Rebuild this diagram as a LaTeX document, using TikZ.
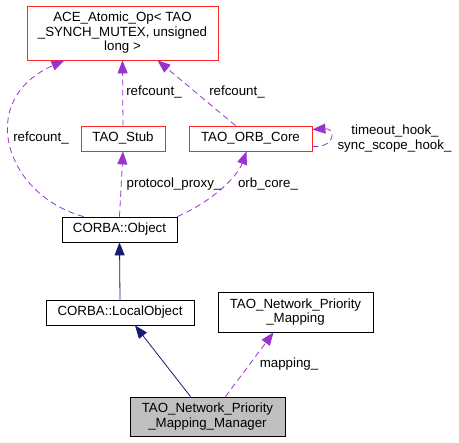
\documentclass[tikz,border=0pt]{standalone}
\usepackage{fontspec}
\setmainfont{Liberation Sans}
\usetikzlibrary{arrows.meta}
\definecolor{usecol}{HTML}{9A32CD}
\definecolor{inhcol}{HTML}{191970}
\definecolor{boxgray}{HTML}{BFBFBF}
\tikzset{
	cls/.style={draw=black,thick,rectangle,inner sep=0pt,align=center,font=\fontsize{13.3}{14.5}\selectfont},
	redcls/.style={cls,draw=red!85!white},
	uses/.style={->,color=usecol,thick,dash pattern=on 6pt off 4pt},
	inherit/.style={->,color=inhcol,thick},
	lbl/.style={font=\fontsize{13.3}{14.5}\selectfont,inner sep=0pt,align=center}
}
\begin{document}
\begin{tikzpicture}[>={Triangle[length=13pt,width=10pt]},x=1pt,y=-1pt]
		\useasboundingbox (0,0) rectangle (459,443);
		\node[redcls,minimum width=191pt,minimum height=54pt] (ace) at (122.5,33) {ACE\_Atomic\_Op< TAO\\\_SYNCH\_MUTEX, unsigned\\long >};
		\node[redcls,minimum width=84pt,minimum height=25pt] (stub) at (123,138.5) {TAO\_Stub};
		\node[redcls,minimum width=123pt,minimum height=25pt] (orb) at (250.5,138.5) {TAO\_ORB\_Core};
		\node[cls,minimum width=115pt,minimum height=25pt] (obj) at (119.5,229.5) {CORBA::Object};
		\node[cls,minimum width=148pt,minimum height=25pt] (local) at (120,312.5) {CORBA::LocalObject};
		\node[cls,minimum width=155pt,minimum height=40pt] (map) at (295.5,312) {TAO\_Network\_Priority\\\_Mapping};
		\node[cls,fill=boxgray,minimum width=155pt,minimum height=39pt] (mgr) at (207.5,416.5) {TAO\_Network\_Priority\\\_Mapping\_Manager};
		% uses
		\draw[uses](stub.north)--(ace.south);
		\draw[uses]([xshift=-15pt]orb.north)--([xshift=35pt]ace.south);
		\draw[uses]([xshift=22pt]obj.north west) .. controls (5,195) and (-25,100) .. ([xshift=-58pt]ace.south);
		\draw[uses](obj.north)--(stub.south);
		\draw[uses](obj.north east) .. controls (215,200) and (238,175) .. ([xshift=-4pt]orb.south);
		\draw[uses]([yshift=-8pt]orb.east) .. controls (336,148) and (336,128) .. ([yshift=9pt]orb.east);
		\draw[uses]([xshift=18pt]mgr.north)--([xshift=-22pt]map.south);
		% inheritance
		\draw[inherit](local.north)--(obj.south);
		\draw[inherit]([xshift=-17pt]mgr.north)--([xshift=15pt]local.south);
		% labels
		\node[lbl] (l1) at (154,92) {refcount\_};
		\node[lbl] (l2) at (237,92) {refcount\_};
		\node[lbl] (l3) at (41,138) {refcount\_};
		\node[lbl] (l4) at (395,131) {timeout\_hook\_};
		\node[lbl] (l5) at (394.5,146) {sync\_scope\_hook\_};
		\node[lbl] (l6) at (174,184) {protocol\_proxy\_};
		\node[lbl] (l7) at (268,184) {orb\_core\_};
		\node[lbl] (l9) at (289,364) {mapping\_};
	\end{tikzpicture}
\end{document}
